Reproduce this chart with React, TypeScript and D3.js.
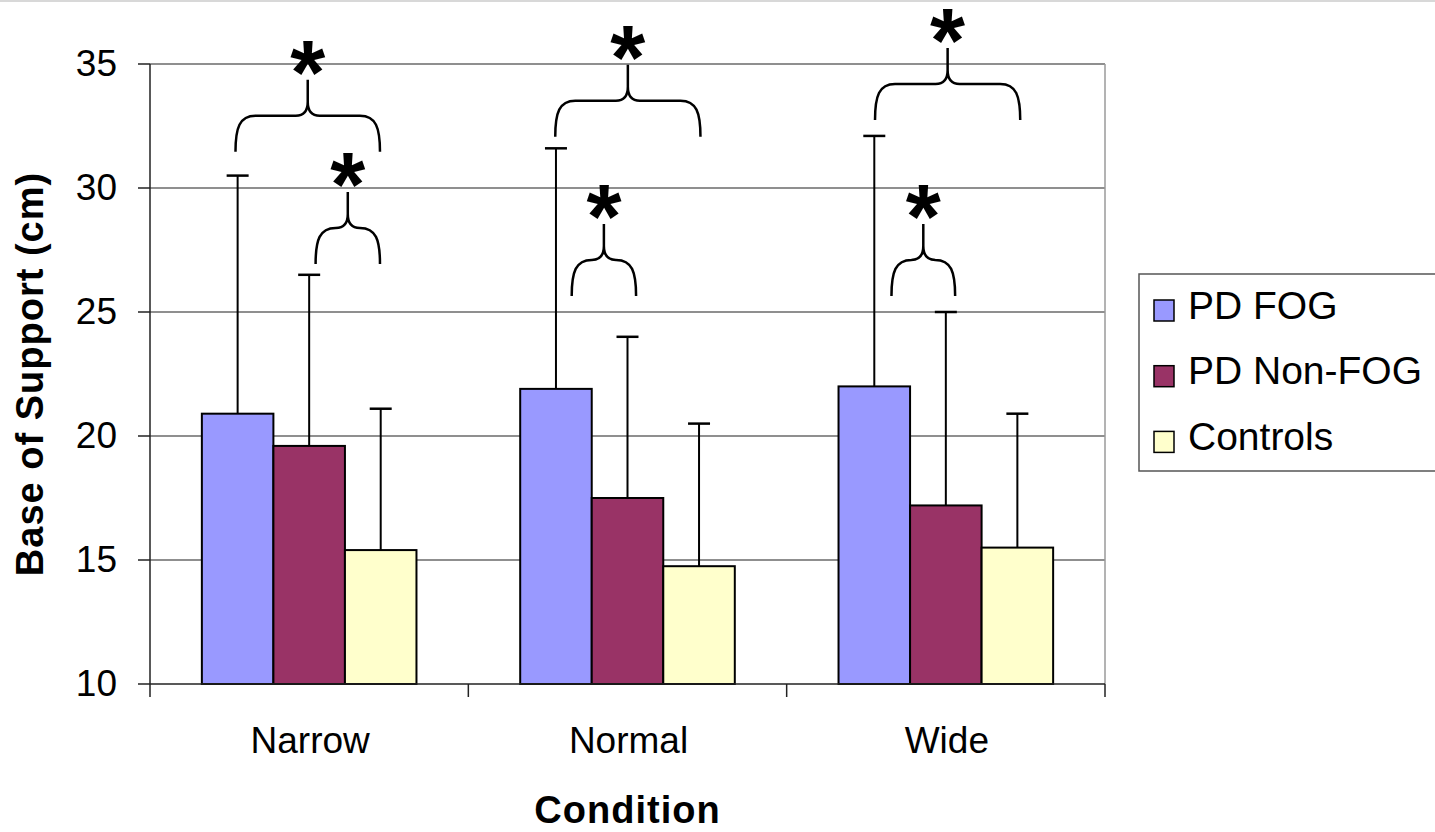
import React, { useRef, useEffect } from 'react';
import * as d3 from 'd3';

const categories = ['Narrow', 'Normal', 'Wide'];
const series = ['PD FOG', 'PD Non-FOG', 'Controls'];
const colors = ['#9999FF', '#993366', '#FFFFCC'];
// mean base of support (cm) per series, one value per category
const pdFog = [20.9, 21.9, 22.0];
const pdNonFog = [19.6, 17.5, 17.2];
const controls = [15.4, 14.75, 15.5];
// standard deviations (upper error bar only)
const pdFogSd = [9.6, 9.7, 10.1];
const pdNonFogSd = [6.9, 6.5, 7.8];
const controlsSd = [5.7, 5.75, 5.4];
const yTicks = [10, 15, 20, 25, 30, 35];

// significance braces: category, span in bar units, value at the brace feet
const braceCats = ['Narrow', 'Narrow', 'Normal', 'Normal', 'Wide', 'Wide'];
const braceFrom = [0.47, 1.59, 0.49, 0.72, 0.51, 0.74];
const braceTo = [2.49, 2.49, 2.52, 1.62, 2.54, 1.63];
const braceBase = [31.46, 26.94, 32.07, 25.65, 32.74, 25.65];

const means = [pdFog, pdNonFog, controls];
const sds = [pdFogSd, pdNonFogSd, controlsSd];

export default function App() {
  const ref = useRef<SVGSVGElement>(null);
  useEffect(() => {
    const W = 1435, H = 832;
    const svg = d3.select(ref.current);
    svg.selectAll('*').remove();
    svg.attr('width', W).attr('height', H);
    const font = 'Liberation Sans, Arial, sans-serif';

    const left = 150, right = 1105, top = 64, bottom = 684;
    const x0 = d3.scaleBand<string>().domain(categories).range([left, right]);
    const bw = x0.bandwidth();
    const barW = bw / 4.45;
    const gap = bw - barW * 3;
    const x1 = d3.scaleBand<string>().domain(series).range([gap / 2, bw - gap / 2]);
    const y = d3.scaleLinear().domain([10, 35]).range([bottom, top]);
    const unit = (cat: string, u: number) => x0(cat)! + gap / 2 + u * barW;

    svg.append('rect').attr('width', W).attr('height', H).attr('fill', '#fff');
    svg.append('line').attr('x1', 0).attr('x2', W).attr('y1', 1).attr('y2', 1)
      .attr('stroke', '#d8d8d8').attr('stroke-width', 2);

    // gridlines
    svg.append('g').selectAll('line').data(yTicks.slice(1)).join('line')
      .attr('x1', left).attr('x2', right)
      .attr('y1', d => y(d)).attr('y2', d => y(d))
      .attr('stroke', '#6a6a6a').attr('stroke-width', 1.5);
    svg.append('line').attr('x1', right).attr('x2', right).attr('y1', top).attr('y2', bottom)
      .attr('stroke', '#9a9a9a').attr('stroke-width', 1.5);

    // bars
    const gBars = svg.append('g');
    categories.forEach((c, ci) => {
      series.forEach((s, si) => {
        const v = means[si][ci];
        const bx = x0(c)! + x1(s)!;
        gBars.append('rect')
          .attr('x', bx).attr('y', y(v))
          .attr('width', x1.bandwidth()).attr('height', y(10) - y(v))
          .attr('fill', colors[si]).attr('stroke', '#000').attr('stroke-width', 2);
      });
    });
    // error bars
    categories.forEach((c, ci) => {
      series.forEach((s, si) => {
        const v = means[si][ci];
        const hi = v + sds[si][ci];
        const cx = x0(c)! + x1(s)! + x1.bandwidth() / 2;
        gBars.append('line').attr('x1', cx).attr('x2', cx).attr('y1', y(v)).attr('y2', y(hi))
          .attr('stroke', '#000').attr('stroke-width', 2);
        gBars.append('line').attr('x1', cx - 11).attr('x2', cx + 11).attr('y1', y(hi)).attr('y2', y(hi))
          .attr('stroke', '#000').attr('stroke-width', 2.5);
      });
    });

    // axes
    svg.append('line').attr('x1', left).attr('x2', left).attr('y1', top).attr('y2', bottom)
      .attr('stroke', '#222').attr('stroke-width', 1.5);
    svg.append('line').attr('x1', left).attr('x2', right).attr('y1', bottom).attr('y2', bottom)
      .attr('stroke', '#222').attr('stroke-width', 1.5);
    const gy = svg.append('g');
    yTicks.forEach(t => {
      gy.append('line').attr('x1', left - 12).attr('x2', left).attr('y1', y(t)).attr('y2', y(t))
        .attr('stroke', '#222').attr('stroke-width', 1.5);
      gy.append('text').attr('x', 117).attr('y', y(t) + 12).attr('text-anchor', 'end')
        .attr('font-family', font).attr('font-size', 37).attr('fill', '#000').text(t);
    });
    const xEdges = categories.map(c => x0(c)!).concat([right]);
    xEdges.forEach(xe => {
      svg.append('line').attr('x1', xe).attr('x2', xe).attr('y1', bottom).attr('y2', bottom + 13)
        .attr('stroke', '#222').attr('stroke-width', 1.5);
    });
    categories.forEach(c => {
      svg.append('text').attr('x', x0(c)! + bw / 2 + 1).attr('y', 753).attr('text-anchor', 'middle')
        .attr('font-family', font).attr('font-size', 37).attr('fill', '#000').text(c);
    });
    svg.append('text').attr('x', (left + right) / 2).attr('y', 823).attr('text-anchor', 'middle')
      .attr('font-family', font).attr('font-size', 38).attr('font-weight', 'bold')
      .attr('letter-spacing', 1).text('Condition');
    svg.append('text').attr('transform', `translate(43,${(top + bottom) / 2}) rotate(-90)`)
      .attr('text-anchor', 'middle').attr('font-family', font).attr('font-size', 38)
      .attr('font-weight', 'bold').attr('letter-spacing', 1).text('Base of Support (cm)');

    // braces and asterisks
    const gBr = svg.append('g');
    braceCats.forEach((c, i) => {
      const L = unit(c, braceFrom[i]);
      const R = unit(c, braceTo[i]);
      const M = (L + R) / 2;
      const B = y(braceBase[i]);
      const Hh = B - 36;
      const T = Hh - 36;
      const path = d3.path();
      path.moveTo(L, B);
      path.bezierCurveTo(L, Hh + 12, L + 4, Hh, L + 20, Hh);
      path.lineTo(M - 12, Hh);
      path.quadraticCurveTo(M, Hh, M, Hh - 14);
      path.lineTo(M, T);
      path.moveTo(R, B);
      path.bezierCurveTo(R, Hh + 12, R - 4, Hh, R - 20, Hh);
      path.lineTo(M + 12, Hh);
      path.quadraticCurveTo(M, Hh, M, Hh - 14);
      gBr.append('path').attr('d', path.toString()).attr('fill', 'none')
        .attr('stroke', '#000').attr('stroke-width', 2.5);
      gBr.append('text').attr('x', M).attr('y', T + 24).attr('text-anchor', 'middle')
        .attr('font-family', font).attr('font-size', 90).attr('font-weight', 'bold').text('*');
    });

    // legend
    const lg = svg.append('g');
    lg.append('rect').attr('x', 1139).attr('y', 274).attr('width', 310).attr('height', 197)
      .attr('fill', '#fff').attr('stroke', '#555').attr('stroke-width', 1.5);
    series.forEach((s, i) => {
      const ly = 300 + i * 65.7;
      lg.append('rect').attr('x', 1154).attr('y', ly).attr('width', 20).attr('height', 21)
        .attr('fill', colors[i]).attr('stroke', '#000').attr('stroke-width', 1.5);
      lg.append('text').attr('x', 1188).attr('y', ly + 18.5).attr('font-family', font)
        .attr('font-size', 39).attr('fill', '#000').text(s);
    });
  }, []);
  return <svg ref={ref} style={{ position: 'absolute', left: 0, top: 0 }} />;
}
